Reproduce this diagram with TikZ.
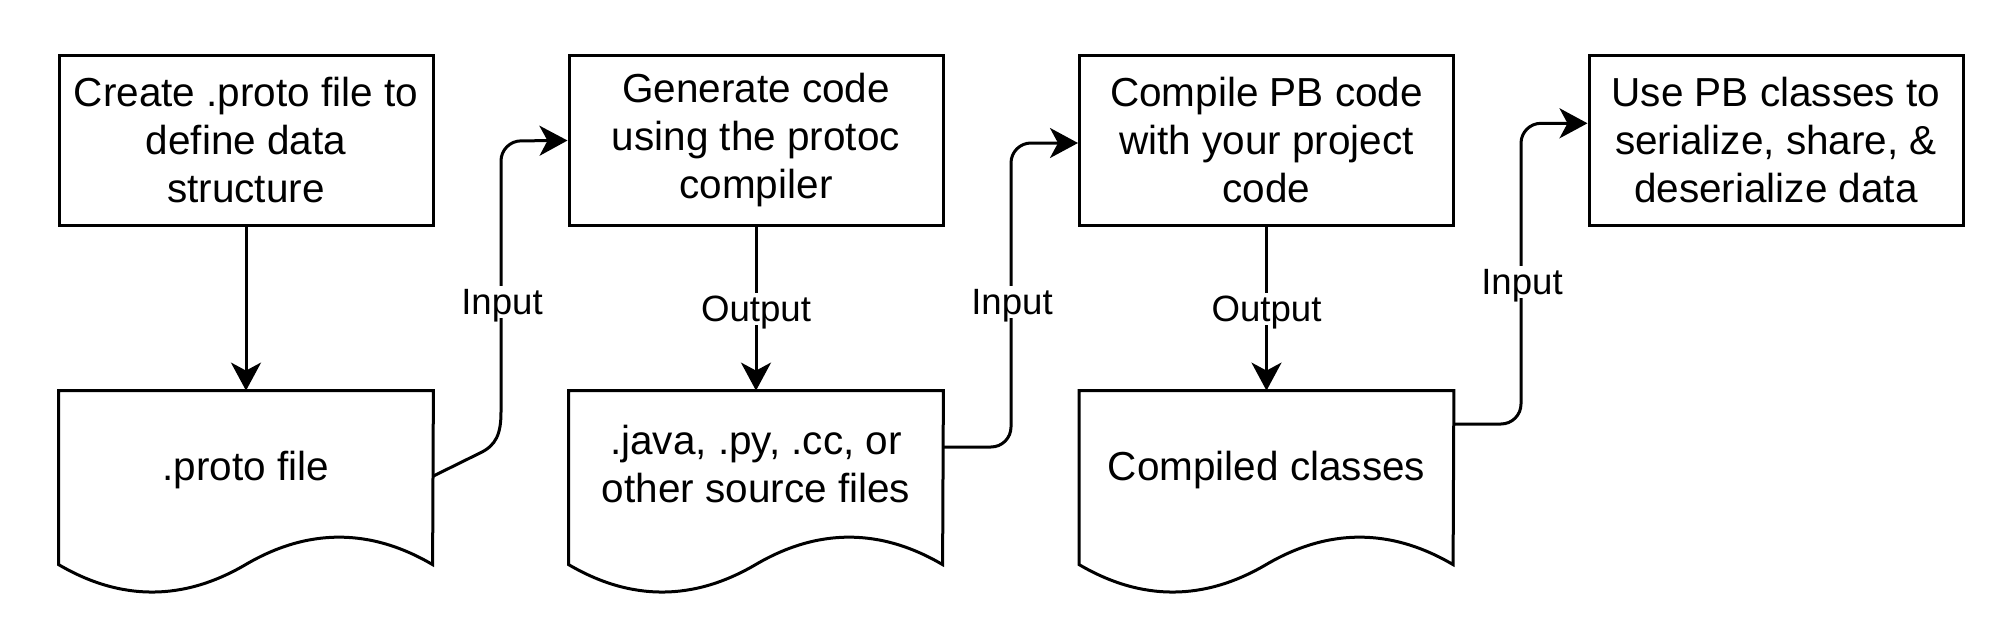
\documentclass[tikz,border=0pt]{standalone}
\usepackage{fontspec}
\setmainfont{Liberation Sans}
\usetikzlibrary{arrows.meta,calc}
\newcommand\docwave[1]{%
  \draw[line width=1.5pt, line join=miter]
    (#1.north west) -- (#1.north east)
    -- ($(#1.north west)+(374,174)$)
    .. controls ($(#1.north west)+(311.7,137.4)$) and ($(#1.north west)+(249.3,137.4)$) .. ($(#1.north west)+(187,174)$)
    .. controls ($(#1.north west)+(124.7,210.6)$) and ($(#1.north west)+(62.3,210.6)$) .. ($(#1.north west)+(0,174)$)
    -- cycle;}
\newcommand\lowertext[2]{\raisebox{-#1}[\height][\depth]{#2}}
\begin{document}
\begin{tikzpicture}[x=0.5pt,y=-0.5pt,
  every node/.style={font=\fontsize{20.25pt}{24pt}\selectfont},
  procbox/.style={draw, line width=1.5pt, minimum width=187pt, minimum height=85pt, align=center, inner sep=0pt},
  docbox/.style={minimum width=187pt, minimum height=73pt, align=center, inner sep=0pt},
  conn/.style={line width=1.5pt, -{Stealth[length=14pt,width=15pt,inset=4pt]}},
  lbl/.style={fill=white, inner sep=1.5pt, text depth=0pt, font=\fontsize{18.3pt}{22pt}\selectfont}]
\useasboundingbox (0,0) rectangle (2010,632);

\node[procbox] (box1) at (246,140.5) {Create .proto file to\\define data\\structure};
\node[procbox] (box2) at (756,140.5) {Generate code\\using the protoc\\compiler};
\node[procbox] (box3) at (1266.5,140.5) {Compile PB code\\with your project\\code};
\node[procbox] (box4) at (1776,140.5) {Use PB classes to\\serialize, share, \&\\deserialize data};

\node[docbox] (doc1) at (246,464) {\lowertext{2.8pt}{.proto file}};
\node[docbox] (doc2) at (756,464) {.java, .py, .cc, or\\other source files};
\node[docbox] (doc3) at (1266.5,464) {\lowertext{2.8pt}{Compiled classes}};
\docwave{doc1}
\docwave{doc2}
\docwave{doc3}

\draw[conn] (box1.south) -- (doc1.north);
\draw[conn] (box2.south) -- node[lbl] (out1) {Output} (doc2.north);
\draw[conn] (box3.south) -- node[lbl] (out2) {Output} (doc3.north);

\draw[conn] ([yshift=-6pt]doc1.east) -- (480,453) .. controls (496,445.5) and (501,434) .. (501,412)
  [rounded corners=10pt] -- (501,141) -- (box2.west);
\draw[conn, rounded corners=10pt] ([yshift=8.5pt]doc2.east) -- (1011,447) -- (1011,143) -- ([yshift=-1.25pt]box3.west);
\draw[conn, rounded corners=10pt] ([yshift=20pt]doc3.east) -- (1521,424) -- (1521,123.3) -- ([yshift=8.6pt]box4.west);

\node[lbl] (in1) at (502,302) {Input};
\node[lbl] (in2) at (1012,302) {Input};
\node[lbl] (in3) at (1522,282) {Input};
\end{tikzpicture}
\end{document}
